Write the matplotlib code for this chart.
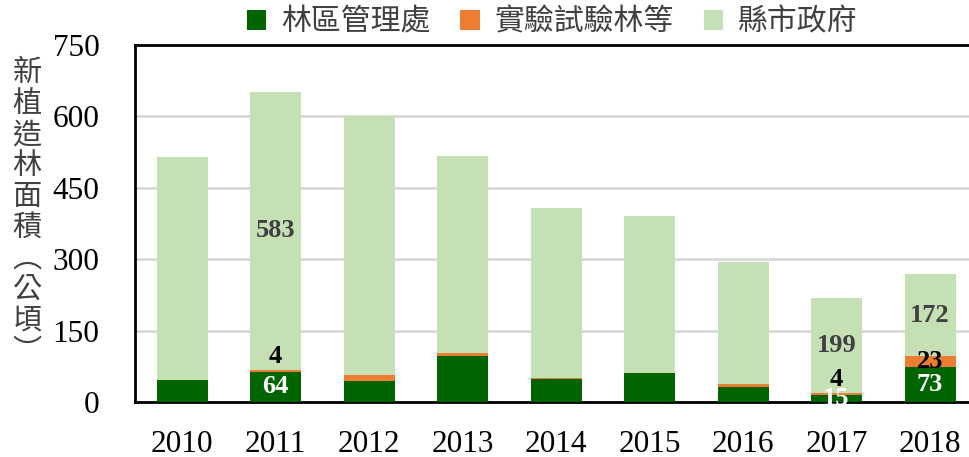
import matplotlib.pyplot as plt
import numpy as np

years = ['2010', '2011', '2012', '2013', '2014', '2015', '2016', '2017', '2018']
forest_office = [47, 64, 45, 97, 48, 61, 31, 15, 73]     # 林區管理處
experimental = [0, 4, 11, 5, 2, 0, 6, 4, 23]            # 實驗試驗林等
county_gov = [467, 583, 544, 415, 357, 330, 257, 199, 172]  # 縣市政府

series_names = ['林區管理處', '實驗試驗林等', '縣市政府']
colors = ['#006400', '#ED7D31', '#C5E0B4']

# which bars get numbers (index into years)
labelled = [1, 7, 8]

cjk = ['Noto Sans CJK TC', 'DejaVu Sans']
serif = 'Liberation Serif'

fig = plt.figure(figsize=(9.69, 4.57), dpi=100)
ax = fig.add_axes([0.1397, 0.1204, 0.8684, 0.7811])

x = np.arange(len(years))
w = 0.545
b1 = ax.bar(x, forest_office, w, color=colors[0], label=series_names[0], zorder=3)
b2 = ax.bar(x, experimental, w, bottom=forest_office, color=colors[1],
            label=series_names[1], zorder=3)
bottom3 = np.array(forest_office) + np.array(experimental)
b3 = ax.bar(x, county_gov, w, bottom=bottom3, color=colors[2],
            label=series_names[2], zorder=3)

ax.set_xlim(-0.5, len(years) - 0.5)
ax.set_ylim(0, 750)
ax.set_yticks([0, 150, 300, 450, 600, 750])
ax.set_xticks(x)
ax.set_xticklabels(years)
ax.yaxis.grid(True, color='#d9d9d9', linewidth=2, zorder=0)
ax.tick_params(length=0, labelsize=22.5, colors='black')
ax.tick_params(axis='y', pad=26)
ax.tick_params(axis='x', pad=20)
for lbl in ax.get_xticklabels() + ax.get_yticklabels():
    lbl.set_fontfamily(serif)
for s in ax.spines.values():
    s.set_linewidth(2)
    s.set_color('black')

# value labels
lab_font = dict(fontfamily=serif, fontweight='bold', fontsize=19,
                ha='center', va='center', zorder=5)
for i in labelled:
    ax.text(x[i], forest_office[i] / 2, str(forest_office[i]), color='white', **lab_font)
    top2 = forest_office[i] + experimental[i]
    if experimental[i] < 10:
        ax.annotate(str(experimental[i]), (x[i], top2), xytext=(0, 13),
                    textcoords='offset pixels', color='black', **lab_font)
    else:
        ax.text(x[i], forest_office[i] + experimental[i] / 2, str(experimental[i]),
                color='black', **lab_font)
    ax.text(x[i], top2 + county_gov[i] / 2, str(county_gov[i]), color='#404040', **lab_font)

# vertical y label
ylab = '新植造林面積︵公頃︶'
fig.text(0.028, 0.535, '\n'.join(ylab), ha='center', va='center', fontsize=21,
         color='#404040', family=cjk, linespacing=1.04)

leg = fig.legend(handles=[b1, b2, b3], labels=series_names, loc='upper center',
                 bbox_to_anchor=(0.570, 1.045), ncol=3, frameon=False,
                 prop={'family': cjk, 'size': 21.5}, handlelength=0.65,
                 handleheight=0.65, handletextpad=0.5, columnspacing=1.0)
for t in leg.get_texts():
    t.set_color('#404040')

fig.savefig('out.png', dpi=100)
